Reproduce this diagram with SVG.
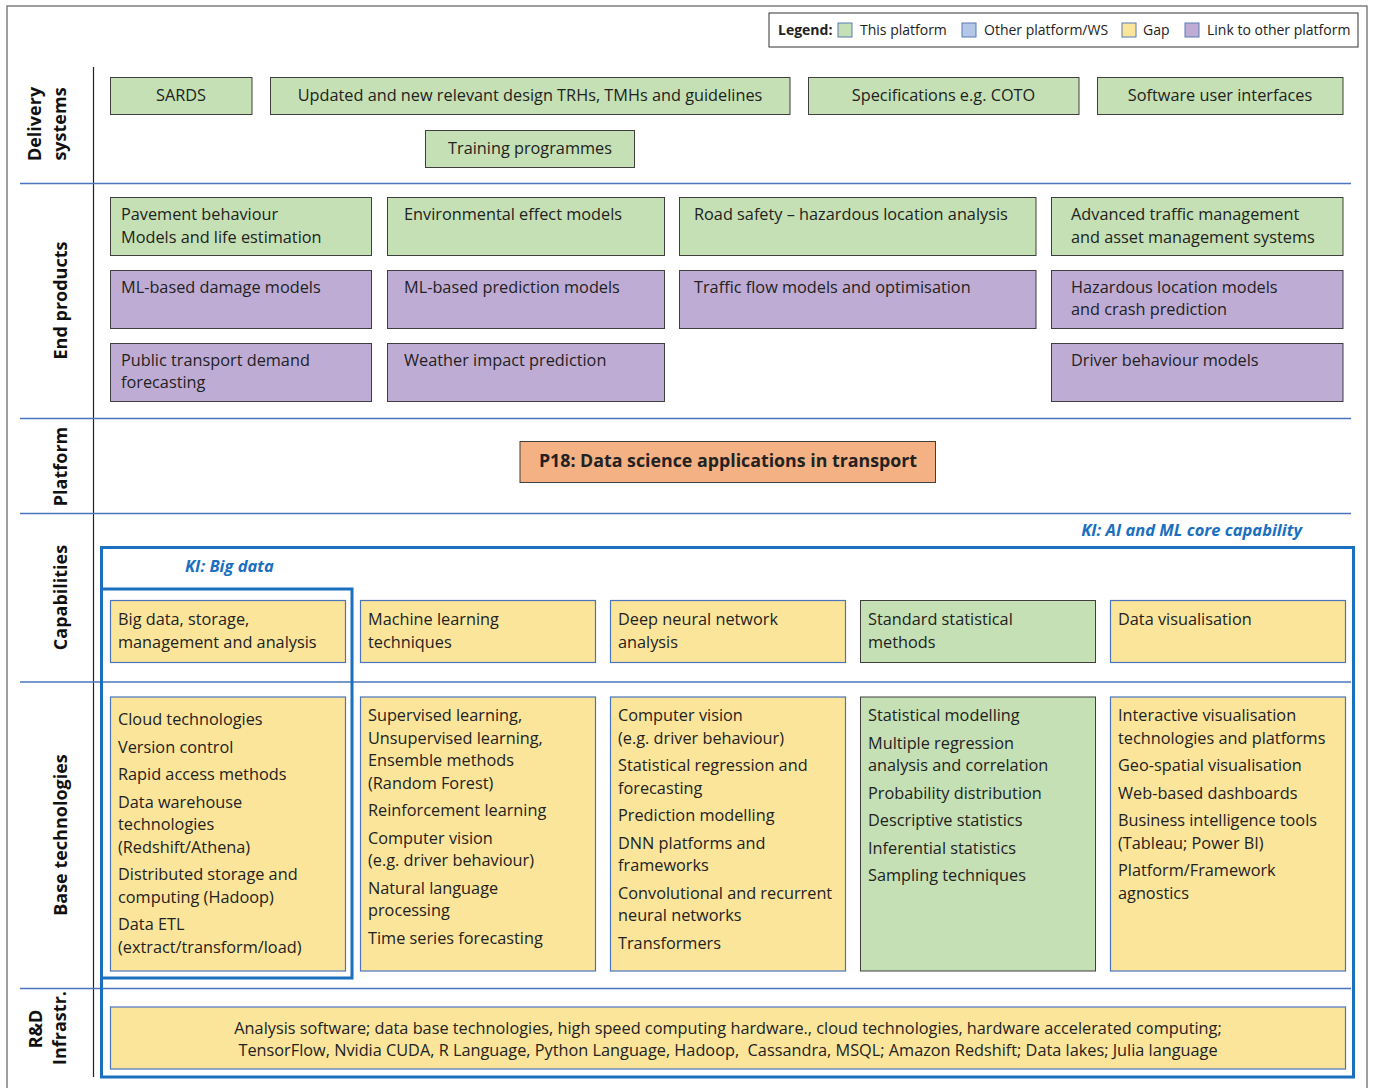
<svg xmlns="http://www.w3.org/2000/svg" width="1373" height="1088" viewBox="0 0 1373 1088">
<style>
  text { font-family: "Open Sans", "Liberation Sans", sans-serif; fill: #222; }
  .t { font-size: 16.3px; }
  .c { text-anchor: middle; }
  .lbl { font-size: 18px; font-weight: bold; text-anchor: middle; fill: #111; }
  .leg { font-size: 14px; }
  .ki { font-size: 16.5px; font-weight: bold; font-style: italic; fill: #1A6FBF; }
  .g { fill: #C5E0B4; stroke: #3F3F3F; stroke-width: 1; }
  .p { fill: #BFACD5; stroke: #3F3F3F; stroke-width: 1; }
  .y { fill: #FBE59B; stroke: #4A74BC; stroke-width: 1.2; }
  .sep { stroke: #4A74BC; stroke-width: 1.3; fill: none; }
  .kib { fill: none; stroke: #1A6FBF; stroke-width: 3; }
</style>

<!-- outer frame -->
<path d="M7,1095 V6 H1367 V1095" fill="none" stroke="#7F7F7F" stroke-width="1.5"/>

<!-- legend -->
<g id="legend">
  <rect x="769" y="13" width="589" height="34" fill="#fff" stroke="#333" stroke-width="1"/>
  <text class="leg" x="778" y="35" font-weight="bold">Legend:</text>
  <rect x="838" y="23" width="14" height="14" fill="#C5E0B4" stroke="#5A7BB5" stroke-width="1"/>
  <text class="leg" x="860" y="35">This platform</text>
  <rect x="962" y="23" width="14" height="14" fill="#B4C7E7" stroke="#5A7BB5" stroke-width="1"/>
  <text class="leg" x="984" y="35">Other platform/WS</text>
  <rect x="1122" y="23" width="14" height="14" fill="#FBE59B" stroke="#5A7BB5" stroke-width="1"/>
  <text class="leg" x="1143" y="35">Gap</text>
  <rect x="1185" y="23" width="14" height="14" fill="#BFACD5" stroke="#5A7BB5" stroke-width="1"/>
  <text class="leg" x="1207" y="35">Link to other platform</text>
</g>

<!-- grid lines -->
<g id="grid">
  <line x1="93.5" y1="67" x2="93.5" y2="1077" stroke="#222" stroke-width="1.2"/>
  <line class="sep" x1="20" y1="183.5" x2="1351" y2="183.5"/>
  <line class="sep" x1="20" y1="418.5" x2="1351" y2="418.5"/>
  <line class="sep" x1="20" y1="513.5" x2="1351" y2="513.5"/>
  <line class="sep" x1="20" y1="682" x2="1351" y2="682"/>
  <line class="sep" x1="20" y1="988.5" x2="1351" y2="988.5"/>
</g>

<!-- row labels -->
<g id="row-labels">
  <text class="lbl" transform="translate(41,124) rotate(-90)">Delivery</text>
  <text class="lbl" transform="translate(66,124) rotate(-90)">systems</text>
  <text class="lbl" transform="translate(67,300.5) rotate(-90)">End products</text>
  <text class="lbl" transform="translate(67,466.5) rotate(-90)">Platform</text>
  <text class="lbl" transform="translate(67,597.5) rotate(-90)">Capabilities</text>
  <text class="lbl" transform="translate(67,835) rotate(-90)">Base technologies</text>
  <text class="lbl" transform="translate(42,1029) rotate(-90)">R&amp;D</text>
  <text class="lbl" transform="translate(66,1028) rotate(-90)">Infrastr.</text>
</g>

<!-- Delivery systems -->
<g id="sards"><rect class="g" x="110.5" y="77.5" width="141.5" height="37"/><text class="t c" x="181" y="101">SARDS</text></g>
<g id="updated"><rect class="g" x="270.5" y="77.5" width="519.5" height="37"/><text class="t c" x="530" y="101">Updated and new relevant design TRHs, TMHs and guidelines</text></g>
<g id="specs"><rect class="g" x="808.5" y="77.5" width="270.5" height="37"/><text class="t c" x="943.5" y="101">Specifications e.g. COTO</text></g>
<g id="software"><rect class="g" x="1097.5" y="77.5" width="245.5" height="37"/><text class="t c" x="1220" y="101">Software user interfaces</text></g>
<g id="training"><rect class="g" x="425.5" y="130.5" width="209" height="37"/><text class="t c" x="530" y="154">Training programmes</text></g>

<!-- End products -->
<g id="pavement"><rect class="g" x="110.5" y="197.5" width="261" height="58"/><text class="t" x="121" y="219.5">Pavement behaviour</text><text class="t" x="121" y="242.5">Models and life estimation</text></g>
<g id="environmental"><rect class="g" x="387.5" y="197.5" width="277" height="58"/><text class="t" x="404" y="219.5">Environmental effect models</text></g>
<g id="road-safety"><rect class="g" x="679.5" y="197.5" width="356.5" height="58"/><text class="t" x="694" y="219.5">Road safety – hazardous location analysis</text></g>
<g id="advanced-traffic"><rect class="g" x="1051.5" y="197.5" width="291.5" height="58"/><text class="t" x="1071" y="219.5">Advanced traffic management</text><text class="t" x="1071" y="242.5">and asset management systems</text></g>

<g id="ml-damage"><rect class="p" x="110.5" y="270.5" width="261" height="58"/><text class="t" x="121" y="292.5">ML-based damage models</text></g>
<g id="ml-prediction"><rect class="p" x="387.5" y="270.5" width="277" height="58"/><text class="t" x="404" y="292.5">ML-based prediction models</text></g>
<g id="traffic-flow"><rect class="p" x="679.5" y="270.5" width="356.5" height="58"/><text class="t" x="694" y="292.5">Traffic flow models and optimisation</text></g>
<g id="hazardous"><rect class="p" x="1051.5" y="270.5" width="291.5" height="58"/><text class="t" x="1071" y="292.5">Hazardous location models</text><text class="t" x="1071" y="315">and crash prediction</text></g>

<g id="public-transport"><rect class="p" x="110.5" y="343.5" width="261" height="58"/><text class="t" x="121" y="365.5">Public transport demand</text><text class="t" x="121" y="388">forecasting</text></g>
<g id="weather"><rect class="p" x="387.5" y="343.5" width="277" height="58"/><text class="t" x="404" y="365.5">Weather impact prediction</text></g>
<g id="driver"><rect class="p" x="1051.5" y="343.5" width="291.5" height="58"/><text class="t" x="1071" y="365.5">Driver behaviour models</text></g>

<!-- Platform -->
<g id="platform"><rect x="520" y="441.5" width="415.5" height="41" fill="#F4B183" stroke="#3F3F3F" stroke-width="1"/><text class="c" x="728" y="466.5" font-size="17.8" font-weight="bold">P18: Data science applications in transport</text></g>

<!-- KI boxes -->
<g id="ki-ai-ml"><rect class="kib" x="101.5" y="547.5" width="1252" height="529.5"/><text class="ki" x="1302" y="536" text-anchor="end">KI: AI and ML core capability</text></g>
<g id="ki-big-data"><rect class="kib" x="101.5" y="589" width="250.5" height="389"/><text class="ki" x="185" y="572">KI: Big data</text></g>

<!-- Capabilities -->
<g id="cap-bigdata"><rect class="y" x="110.5" y="600.5" width="235" height="62"/><text class="t" x="118" y="625">Big data, storage,</text><text class="t" x="118" y="648">management and analysis</text></g>
<g id="cap-ml"><rect class="y" x="360.5" y="600.5" width="235" height="62"/><text class="t" x="368" y="625">Machine learning</text><text class="t" x="368" y="648">techniques</text></g>
<g id="cap-dnn"><rect class="y" x="610.5" y="600.5" width="235" height="62"/><text class="t" x="618" y="625">Deep neural network</text><text class="t" x="618" y="648">analysis</text></g>
<g id="cap-stat"><rect class="g" x="860.5" y="600.5" width="235" height="62"/><text class="t" x="868" y="625">Standard statistical</text><text class="t" x="868" y="648">methods</text></g>
<g id="cap-vis"><rect class="y" x="1110.5" y="600.5" width="235" height="62"/><text class="t" x="1118" y="625">Data visualisation</text></g>

<!-- Base technologies -->
<g id="base-bigdata"><rect class="y" x="110.5" y="697" width="235" height="274"/>
  <text class="t" x="118" y="725">Cloud technologies</text>
  <text class="t" x="118" y="752.5">Version control</text>
  <text class="t" x="118" y="780">Rapid access methods</text>
  <text class="t" x="118" y="807.5">Data warehouse</text>
  <text class="t" x="118" y="830">technologies</text>
  <text class="t" x="118" y="852.5">(Redshift/Athena)</text>
  <text class="t" x="118" y="880">Distributed storage and</text>
  <text class="t" x="118" y="902.5">computing (Hadoop)</text>
  <text class="t" x="118" y="930">Data ETL</text>
  <text class="t" x="118" y="952.5">(extract/transform/load)</text>
</g>
<g id="base-ml"><rect class="y" x="360.5" y="697" width="235" height="274"/>
  <text class="t" x="368" y="721">Supervised learning,</text>
  <text class="t" x="368" y="743.5">Unsupervised learning,</text>
  <text class="t" x="368" y="766">Ensemble methods</text>
  <text class="t" x="368" y="788.5">(Random Forest)</text>
  <text class="t" x="368" y="816">Reinforcement learning</text>
  <text class="t" x="368" y="843.5">Computer vision</text>
  <text class="t" x="368" y="866">(e.g. driver behaviour)</text>
  <text class="t" x="368" y="893.5">Natural language</text>
  <text class="t" x="368" y="916">processing</text>
  <text class="t" x="368" y="943.5">Time series forecasting</text>
</g>
<g id="base-dnn"><rect class="y" x="610.5" y="697" width="235" height="274"/>
  <text class="t" x="618" y="721">Computer vision</text>
  <text class="t" x="618" y="743.5">(e.g. driver behaviour)</text>
  <text class="t" x="618" y="771">Statistical regression and</text>
  <text class="t" x="618" y="793.5">forecasting</text>
  <text class="t" x="618" y="821">Prediction modelling</text>
  <text class="t" x="618" y="848.5">DNN platforms and</text>
  <text class="t" x="618" y="871">frameworks</text>
  <text class="t" x="618" y="898.5">Convolutional and recurrent</text>
  <text class="t" x="618" y="921">neural networks</text>
  <text class="t" x="618" y="948.5">Transformers</text>
</g>
<g id="base-stat"><rect class="g" x="860.5" y="697" width="235" height="274"/>
  <text class="t" x="868" y="721">Statistical modelling</text>
  <text class="t" x="868" y="748.5">Multiple regression</text>
  <text class="t" x="868" y="771">analysis and correlation</text>
  <text class="t" x="868" y="798.5">Probability distribution</text>
  <text class="t" x="868" y="826">Descriptive statistics</text>
  <text class="t" x="868" y="853.5">Inferential statistics</text>
  <text class="t" x="868" y="881">Sampling techniques</text>
</g>
<g id="base-vis"><rect class="y" x="1110.5" y="697" width="235" height="274"/>
  <text class="t" x="1118" y="721">Interactive visualisation</text>
  <text class="t" x="1118" y="743.5">technologies and platforms</text>
  <text class="t" x="1118" y="771">Geo-spatial visualisation</text>
  <text class="t" x="1118" y="798.5">Web-based dashboards</text>
  <text class="t" x="1118" y="826">Business intelligence tools</text>
  <text class="t" x="1118" y="848.5">(Tableau; Power BI)</text>
  <text class="t" x="1118" y="876">Platform/Framework</text>
  <text class="t" x="1118" y="898.5">agnostics</text>
</g>

<!-- R&D infrastructure -->
<g id="rd-infra"><rect class="y" x="110.5" y="1007" width="1235" height="62"/>
  <text class="t c" x="728" y="1034">Analysis software; data base technologies, high speed computing hardware., cloud technologies, hardware accelerated computing;</text>
  <text class="t c" x="728" y="1056" style="white-space:pre">TensorFlow, Nvidia CUDA, R Language, Python Language, Hadoop,  Cassandra, MSQL; Amazon Redshift; Data lakes; Julia language</text>
</g>
</svg>
